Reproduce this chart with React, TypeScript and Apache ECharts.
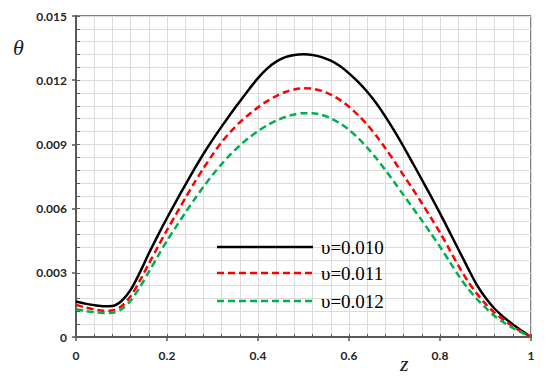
import React, { useEffect, useRef } from "react";
import * as echarts from "echarts";

const zValues = [0, 0.02, 0.04, 0.06, 0.08, 0.1, 0.12, 0.14, 0.16, 0.18, 0.2, 0.22, 0.24, 0.26, 0.28, 0.3, 0.32, 0.34, 0.36, 0.38, 0.4, 0.42, 0.44, 0.46, 0.48, 0.5, 0.52, 0.54, 0.56, 0.58, 0.6, 0.62, 0.64, 0.66, 0.68, 0.7, 0.72, 0.74, 0.76, 0.78, 0.8, 0.82, 0.84, 0.86, 0.88, 0.9, 0.92, 0.94, 0.96, 0.98, 1];
const theta010 = [0.00166, 0.00156, 0.00149, 0.00144, 0.00145, 0.00168, 0.0022, 0.003, 0.0039, 0.00475, 0.00556, 0.00634, 0.0071, 0.00784, 0.00855, 0.00921, 0.00983, 0.01043, 0.01101, 0.01157, 0.0121, 0.01254, 0.01287, 0.01308, 0.01318, 0.01321, 0.01318, 0.01308, 0.01291, 0.01266, 0.01232, 0.01192, 0.01146, 0.01092, 0.0103, 0.00962, 0.00889, 0.00813, 0.00736, 0.00658, 0.00578, 0.00495, 0.00411, 0.00328, 0.00247, 0.00183, 0.00132, 0.00093, 0.00059, 0.00029, 0];
const theta011 = [0.0015, 0.00138, 0.00129, 0.00123, 0.00124, 0.00144, 0.0019, 0.00262, 0.00342, 0.00422, 0.005, 0.00574, 0.00648, 0.0072, 0.00788, 0.00852, 0.0091, 0.0096, 0.01003, 0.0104, 0.01073, 0.01102, 0.01126, 0.01145, 0.01157, 0.01162, 0.0116, 0.0115, 0.01133, 0.01108, 0.01076, 0.01037, 0.00992, 0.0094, 0.00882, 0.0082, 0.00755, 0.00692, 0.00626, 0.00558, 0.00488, 0.00412, 0.00335, 0.00265, 0.00205, 0.00155, 0.00113, 0.0008, 0.0005, 0.00024, 0];
const theta012 = [0.0013, 0.00122, 0.00116, 0.00112, 0.00113, 0.0013, 0.0017, 0.00232, 0.00304, 0.00378, 0.0045, 0.00516, 0.0058, 0.00642, 0.00702, 0.00757, 0.00808, 0.00854, 0.00895, 0.00931, 0.00962, 0.00989, 0.01011, 0.01028, 0.0104, 0.01046, 0.01046, 0.01038, 0.01022, 0.00999, 0.00968, 0.0093, 0.00885, 0.00835, 0.0078, 0.00722, 0.00663, 0.00604, 0.00545, 0.00484, 0.00422, 0.00356, 0.0029, 0.0023, 0.0018, 0.00137, 0.00098, 0.00068, 0.00042, 0.0002, 0];
const seriesNames = ["υ=0.010", "υ=0.011", "υ=0.012"];
const seriesColors = ["#000000", "#ff0000", "#00b050"];
const xTickLabels = ["0", "0.2", "0.4", "0.6", "0.8", "1"];
const yTickLabels = ["0", "0.003", "0.006", "0.009", "0.012", "0.015"];

export default function App() {
  const ref = useRef<HTMLDivElement>(null);
  useEffect(() => {
    if (!ref.current) return;
    const chart = echarts.init(ref.current, undefined, { renderer: "svg" });
    const labelFont = { fontFamily: "Lato", fontWeight: "bold" as const, fontSize: 12, color: "#262626" };
    const axisLineStyle = { color: "#595959", width: 2 };
    const all = [theta010, theta011, theta012];
    const legendY = [247, 273, 301];
    const legendGraphics: any[] = [];
    seriesNames.forEach((name, i) => {
      legendGraphics.push({
        type: "line",
        shape: { x1: 217, y1: legendY[i], x2: 313, y2: legendY[i] },
        style: { stroke: seriesColors[i], lineWidth: 2.5, lineDash: i === 0 ? null : [7, 4] },
        z: 10,
      });
      legendGraphics.push({
        type: "text",
        x: 321,
        y: legendY[i],
        style: { text: name, font: "19px 'Liberation Serif'", fill: "#000", verticalAlign: "middle", align: "left" },
        z: 10,
      });
    });
    chart.setOption({
      animation: false,
      backgroundColor: "#ffffff",
      grid: { left: 76, right: 19, top: 16, bottom: 47, show: true, borderColor: "#000000", borderWidth: 1 },
      xAxis: [
        {
          type: "value", min: 0, max: 1, interval: 0.04,
          axisLabel: { show: false },
          axisLine: { show: true, lineStyle: axisLineStyle },
          axisTick: { show: true, inside: true, length: 3, lineStyle: { color: "#595959", width: 1 } },
          splitLine: { show: true, lineStyle: { color: "#dcdcdc", width: 1 } },
        },
        {
          type: "value", min: 0, max: 1, interval: 0.2, position: "bottom",
          axisLabel: { show: true, margin: 12, ...labelFont, formatter: (v: number) => xTickLabels[Math.round(v / 0.2)] },
          axisLine: { show: true, lineStyle: axisLineStyle },
          axisTick: { show: true, inside: false, length: 4, lineStyle: { color: "#595959", width: 1.5 } },
          splitLine: { show: false },
        },
      ],
      yAxis: [
        {
          type: "value", min: 0, max: 0.015, interval: 0.0006,
          axisLabel: { show: false },
          axisLine: { show: true, lineStyle: axisLineStyle },
          axisTick: { show: true, inside: true, length: 4, lineStyle: { color: "#595959", width: 1 } },
          splitLine: { show: true, lineStyle: { color: "#dcdcdc", width: 1 } },
        },
        {
          type: "value", min: 0, max: 0.015, interval: 0.003, position: "left",
          axisLabel: { show: true, margin: 9, ...labelFont, formatter: (v: number) => yTickLabels[Math.round(v / 0.003)] },
          axisLine: { show: true, lineStyle: axisLineStyle },
          axisTick: { show: true, inside: false, length: 4, lineStyle: { color: "#595959", width: 1.5 } },
          splitLine: { show: false },
        },
      ],
      graphic: [
        { type: "text", left: 13, top: 36, style: { text: "θ", font: "italic 22px 'Liberation Serif'", fill: "#1a1a2a" } },
        { type: "text", left: 400, top: 352, style: { text: "z", font: "italic 22px 'Liberation Serif'", fill: "#1a1a2a" } },
        ...legendGraphics,
      ],
      series: seriesNames.map((name, i) => ({
        name,
        type: "line",
        xAxisIndex: 0,
        yAxisIndex: 0,
        smooth: 0.3,
        symbol: "none",
        data: zValues.map((z, j) => [z, all[i][j]]),
        lineStyle: { color: seriesColors[i], width: 2.5, type: i === 0 ? "solid" : [7, 4] },
        itemStyle: { color: seriesColors[i] },
      })),
    });
    return () => chart.dispose();
  }, []);
  return <div ref={ref} style={{ width: 550, height: 384, position: "absolute", left: 0, top: 0 }} />;
}
